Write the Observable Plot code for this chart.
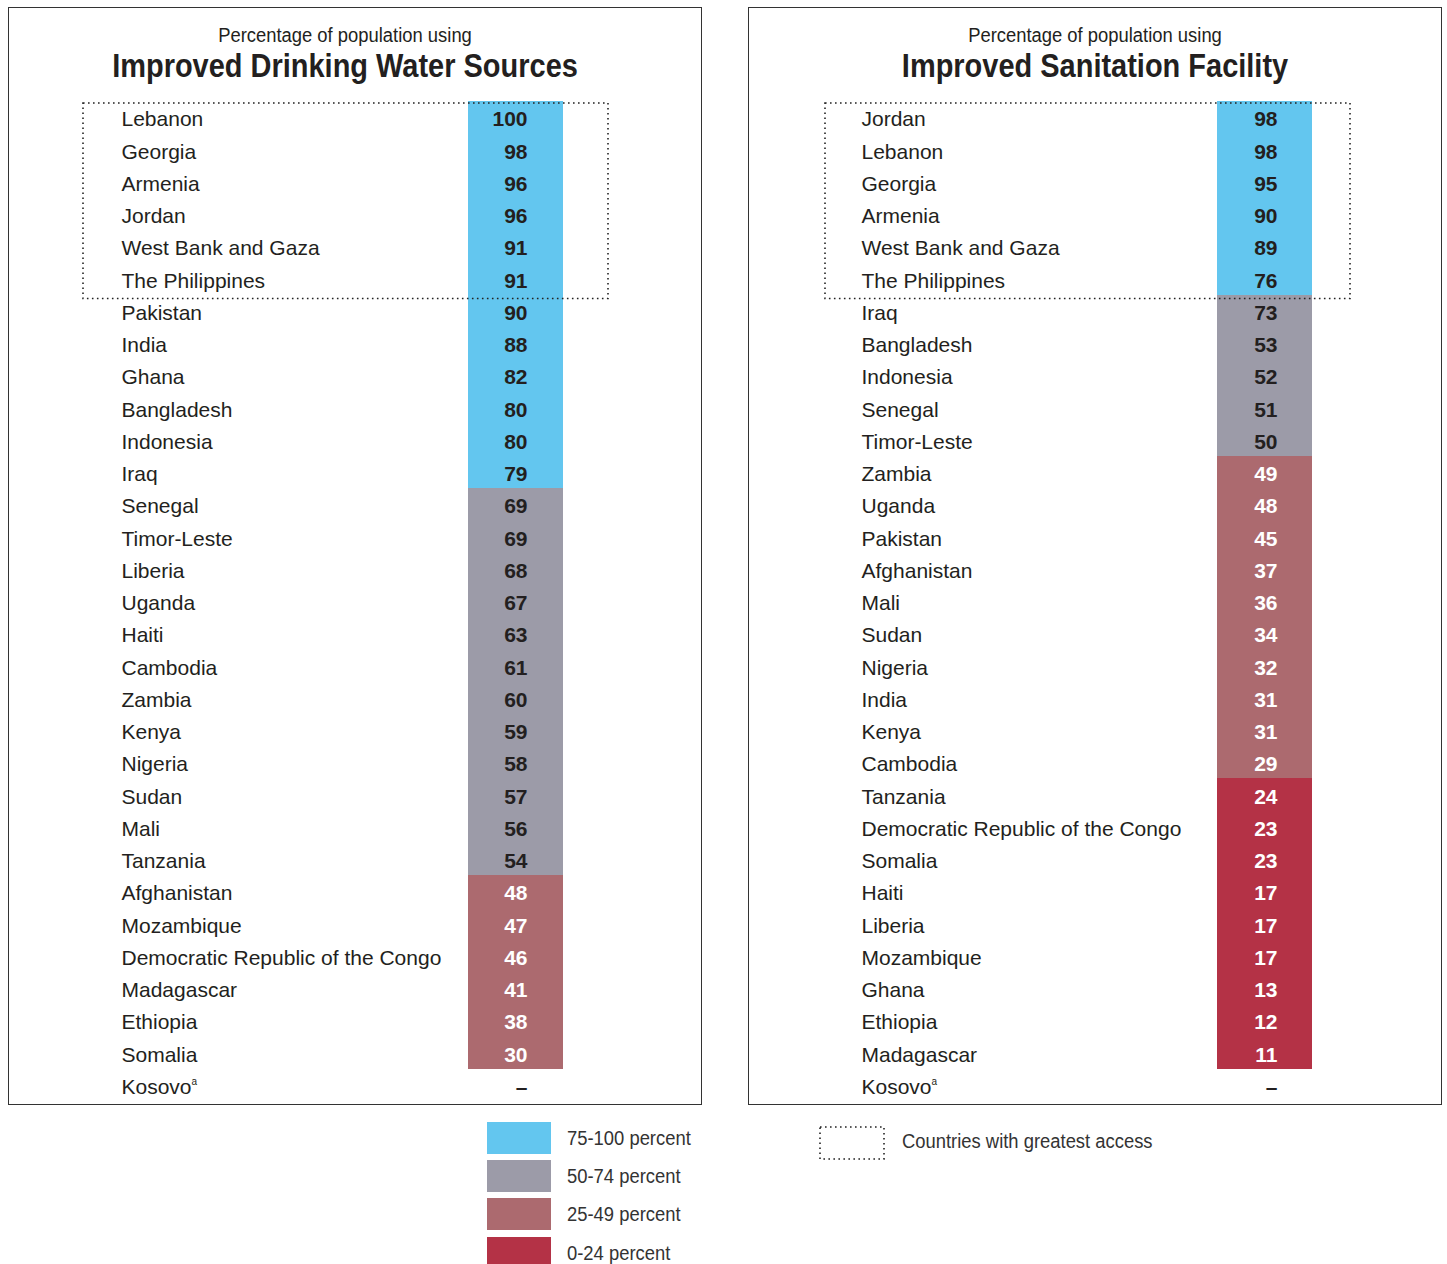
<!DOCTYPE html>
<html><head><meta charset="utf-8">
<script src="https://cdn.jsdelivr.net/npm/d3@7"></script>
<script src="https://cdn.jsdelivr.net/npm/@observablehq/plot@0.6"></script>
<style>
body{margin:0;background:#fff;font-family:"Liberation Sans",Arial,sans-serif;color:#231f20;}
#page{position:relative;width:1447px;height:1264px;overflow:hidden;}
.border{position:absolute;top:7px;width:694px;height:1098px;border:1.3px solid #333;box-sizing:border-box;}
.sub{position:absolute;top:22px;font-size:20px;white-space:nowrap;transform:translateX(-50%) scaleX(0.92);line-height:26px;}
.title{position:absolute;top:45px;font-size:34px;font-weight:bold;white-space:nowrap;transform:translateX(-50%) scaleX(0.852);line-height:40px;}
.svgbox{position:absolute;top:90px;}
.sw{position:absolute;left:487px;width:64px;height:32px;}
.lab{position:absolute;left:567px;font-size:20px;line-height:32px;color:#333;white-space:nowrap;transform-origin:0 50%;transform:scaleX(0.92);}
</style></head>
<body><div id="page"></div>
<script>
const waterCountries = ["Lebanon","Georgia","Armenia","Jordan","West Bank and Gaza","The Philippines","Pakistan","India","Ghana","Bangladesh","Indonesia","Iraq","Senegal","Timor-Leste","Liberia","Uganda","Haiti","Cambodia","Zambia","Kenya","Nigeria","Sudan","Mali","Tanzania","Afghanistan","Mozambique","Democratic Republic of the Congo","Madagascar","Ethiopia","Somalia","Kosovo"];
const waterValues = [100,98,96,96,91,91,90,88,82,80,80,79,69,69,68,67,63,61,60,59,58,57,56,54,48,47,46,41,38,30,null];
const sanitationCountries = ["Jordan","Lebanon","Georgia","Armenia","West Bank and Gaza","The Philippines","Iraq","Bangladesh","Indonesia","Senegal","Timor-Leste","Zambia","Uganda","Pakistan","Afghanistan","Mali","Sudan","Nigeria","India","Kenya","Cambodia","Tanzania","Democratic Republic of the Congo","Somalia","Haiti","Liberia","Mozambique","Ghana","Ethiopia","Madagascar","Kosovo"];
const sanitationValues = [98,98,95,90,89,76,73,53,52,51,50,49,48,45,37,36,34,32,31,31,29,24,23,23,17,17,17,13,12,11,null];
const footnoted = ["Kosovo"];
const topCount = 6;
const bandLabels = ["75-100 percent","50-74 percent","25-49 percent","0-24 percent"];
const bandColors = ["#63c6ef","#9c9ba8","#ac6a6f","#b43246"];
const bandMins = [75,50,25,0];
const subtitleText = "Percentage of population using";
const titles = ["Improved Drinking Water Sources","Improved Sanitation Facility"];
const boxLegendText = "Countries with greatest access";

const FONT = '"Liberation Sans",Arial,sans-serif';
const category = v => v == null ? null : bandLabels[bandMins.findIndex(m => v >= m)];

function panel(countries, values, o) {
  const W = 692;
  const data = countries.map((c, i) => ({country: c, value: values[i]}));
  const svg = Plot.plot({
    width: W, height: 1014,
    marginTop: 11, marginBottom: 3.25,
    marginLeft: o.boxLeft, marginRight: W - o.boxRight,
    x: {type: "band", domain: ["value"], range: o.cellRange, padding: 0, round: false, axis: null},
    y: {type: "band", domain: countries, padding: 0, round: false, axis: null},
    color: {type: "ordinal", domain: bandLabels, range: bandColors},
    style: {fontFamily: FONT, background: "transparent", overflow: "visible"},
    marks: [
      Plot.cell(data.filter(d => d.value != null), {x: () => "value", y: "country", fill: d => category(d.value),
        shapeRendering: "crispEdges", insetBottom: -0.5}),
      Plot.rect([{}], {y1: () => countries[0], y2: () => countries[topCount - 1], fill: "none",
        stroke: "#222", strokeWidth: 1.6, strokeDasharray: "1.6,3.4", insetTop: 2, insetBottom: -4}),
      Plot.text(data, {y: "country", text: "country", frameAnchor: "left", textAnchor: "start",
        dx: o.nameDx, dy: 2, fontSize: 21, fill: "#231f20"}),
      Plot.text(data, {x: () => "value", y: "country", text: d => d.value == null ? "–" : String(d.value),
        textAnchor: "end", dx: o.valueDx, dy: 2, fontSize: 21, fontWeight: "bold",
        fill: d => d.value != null && d.value < 50 ? "#ffffff" : "#231f20"})
    ]
  });
  d3.select(svg).selectAll("text").filter(function() { return footnoted.includes(this.textContent); })
    .append("tspan").attr("font-size", 10).attr("dy", -9).text("a");
  return svg;
}

const page = document.getElementById("page");
function add(html) { const d = document.createElement("div"); d.innerHTML = html; page.appendChild(d.firstChild); return page.lastChild; }

add(`<div class="border" style="left:8px"></div>`);
add(`<div class="border" style="left:748px"></div>`);
add(`<div class="sub" style="left:345px">${subtitleText}</div>`);
add(`<div class="title" style="left:345px">${titles[0]}</div>`);
add(`<div class="sub" style="left:1095px">${subtitleText}</div>`);
add(`<div class="title" style="left:1095px">${titles[1]}</div>`);

const b1 = add(`<div class="svgbox" style="left:9px"></div>`);
b1.appendChild(panel(waterCountries, waterValues, {boxLeft: 74, boxRight: 599, cellRange: [459, 554], nameDx: 38, valueDx: 11.5}));
const b2 = add(`<div class="svgbox" style="left:749px"></div>`);
b2.appendChild(panel(sanitationCountries, sanitationValues, {boxLeft: 76, boxRight: 601, cellRange: [468, 563], nameDx: 36, valueDx: 12.5}));

const legTops = [1122, 1160, 1198, 1237];
bandLabels.forEach((l, i) => {
  add(`<div class="sw" style="top:${legTops[i]}px;background:${bandColors[i]}"></div>`);
  add(`<div class="lab" style="top:${legTops[i]}px">${l}</div>`);
});
add(`<svg style="position:absolute;left:819px;top:1126px" width="68" height="36"><rect x="1" y="1" width="64" height="32" fill="none" stroke="#222" stroke-width="1.6" stroke-dasharray="1.6,3.4"/></svg>`);
add(`<div class="lab" style="left:902px;top:1125px">${boxLegendText}</div>`);
</script></body></html>
